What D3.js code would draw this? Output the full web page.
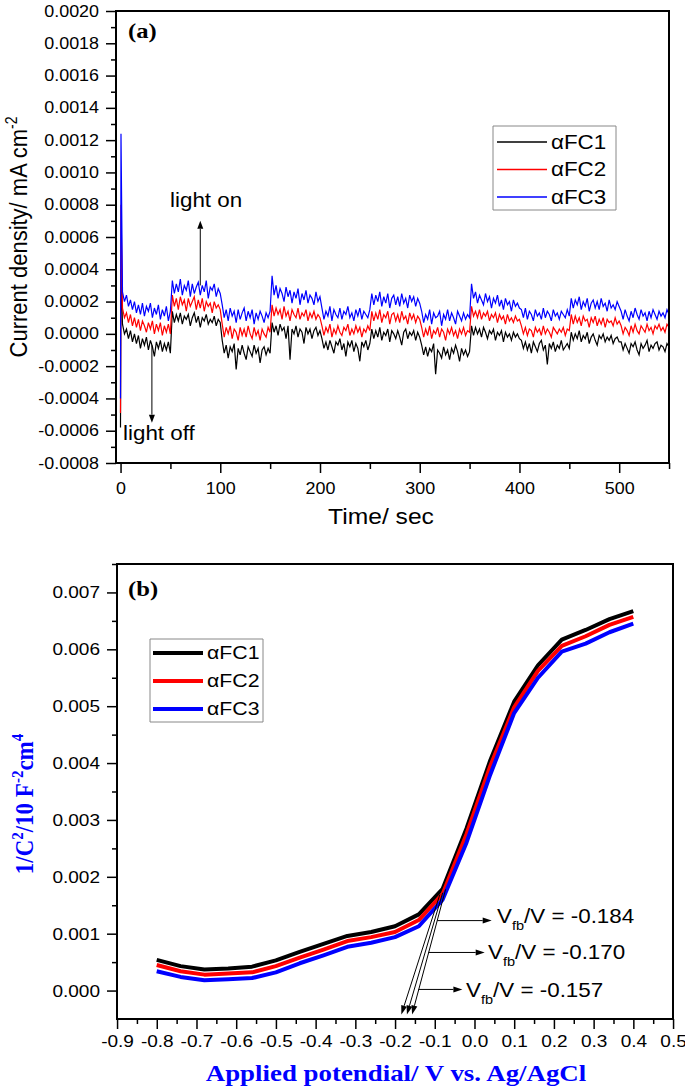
<!DOCTYPE html>
<html>
<head>
<meta charset="utf-8">
<script src="https://cdn.jsdelivr.net/npm/d3@7/dist/d3.min.js"></script>
<style>
html,body{margin:0;padding:0;background:#fff;}
svg{display:block;}
</style>
</head>
<body>
<script>
// ================= DATA: panel (a) transient photocurrent =================
const UNIT_A = 1e-5; // series values below are in units of 1e-5 mA cm^-2
const timeA = [0, 0.5].concat(d3.range(2, 551, 2)); // seconds
const namesA = ["\u03B1FC1", "\u03B1FC2", "\u03B1FC3"];
const colorsA = ["#000000", "#ff0000", "#0000ff"];
const fc1A = [-58, 40,
  6, 0, 3, -3, 2, -5, 0, -6, -1, -9, -3, -7, -2, -10, -4, -8, -14, -5, -9, -4, -11, -6, -10, -5, -12,
  14, 7, 12, 8, 13, 6, 11, 9, 12, 5, 10, 13, 7, 11, 4, 10, 8, 12, 6, 9, 7, 11, 5, 9, 7,
  -4, -12, -7, -15, -8, -11, -6, -22, -9, -13, -7, -12, -16, -8, -11, -14, -7, -12, -9, -18, -10, -8, -13, -9, -12,
  7, 1, 5, -1, 6, 2, 4, -3, 5, -16, 3, 0, 5, -2, 3, 1, -6, 4, 0, 3, -3, 2, 4, -1, 2,
  -3, -9, -5, -10, -4, -8, -12, -5, -7, -3, -10, -6, -14, -5, -8, -4, -11, -6, -9, -17, -5, -8, -4, -10, -6,
  3, -3, 2, -2, 4, -4, 1, -1, 3, -5, 2, 0, -3, 2, -2, -7, 1, 3, -3, 1, -1, 2, -4, 1, -2,
  -7, -13, -8, -14, -9, -11, -6, -25, -10, -12, -15, -8, -13, -10, -16, -9, -12, -7, -11, -17, -9, -13, -10, -14, -11,
  5, -1, 4, 0, 3, -2, 4, 1, -3, 2, 0, 3, -4, 1, -1, 2, -5, 1, -2, 0, -4, 1, -2, 0, -3,
  -4, -9, -5, -10, -6, -12, -5, -8, -11, -6, -4, -10, -7, -19, -6, -9, -5, -11, -7, -9, -4, -10, -8, -6, -9,
  1, -4, 0, -3, 2, -5, -1, -3, 1, -6, -2, 0, -4, -7, -1, -3, 0, -5, -2, -4, -1, -6, -3, -2, -5,
  -5, -10, -6, -9, -12, -6, -8, -5, -10, -13, -6, -9, -7, -4, -11, -7, -9, -6, -5, -10, -7, -8, -11, -6, -8];
const fc2A = [-49, 80,
  16, 10, 13, 7, 12, 5, 10, 4, 9, 2, 8, 5, 1, 7, 3, 8, 0, 6, 2, 7, -1, 5, 1, 6, 0,
  24, 17, 22, 15, 23, 18, 21, 14, 22, 17, 20, 23, 15, 21, 16, 22, 14, 20, 17, 19, 13, 20, 16, 18, 15,
  6, -2, 4, 0, 5, -3, 3, 1, -4, 4, -1, 3, -2, 5, 0, -3, 4, -1, 2, -4, 3, 0, -2, 4, 1,
  18, 11, 16, 12, 15, 9, 17, 11, 14, 8, 15, 12, 10, 16, 9, 13, 11, 15, 8, 13, 10, 14, 9, 12, 10,
  5, -1, 4, 1, 6, -2, 3, 0, 5, 1, -1, 4, 2, 6, -1, 3, 0, 5, 1, 4, -2, 3, 1, 5, 2,
  14, 8, 13, 9, 15, 7, 12, 10, 14, 6, 12, 13, 8, 12, 7, 14, 9, 11, 6, 13, 9, 12, 7, 11, 9,
  4, -2, 3, -1, 5, -3, 2, 0, 4, -2, 3, 1, -4, 3, 0, 4, -1, 2, -3, 3, 0, 4, -1, 2, 1,
  17, 11, 14, 10, 15, 9, 13, 11, 14, 8, 12, 10, 13, 7, 12, 9, 11, 6, 12, 8, 10, 7, 11, 8, 9,
  5, 0, 4, -1, 3, 2, -2, 4, 1, 3, -1, 5, 0, 3, 1, -2, 4, 2, 0, 3, 1, 4, -1, 3, 2,
  12, 6, 11, 7, 10, 5, 11, 8, 9, 4, 10, 7, 11, 5, 9, 6, 10, 4, 9, 7, 8, 5, 10, 6, 8,
  5, 0, 4, 2, -1, 5, 1, 6, 2, 0, 5, 3, 1, 6, 2, 4, 0, 5, 3, 6, 2, 4, 1, 6, 4];
const fc3A = [-40, 124,
  26, 20, 24, 17, 21, 15, 20, 13, 18, 12, 19, 11, 17, 14, 19, 10, 16, 12, 18, 9, 15, 11, 17, 8, 14,
  33, 25, 31, 26, 34, 24, 30, 27, 33, 23, 31, 25, 29, 32, 24, 30, 26, 33, 22, 29, 27, 31, 23, 28, 25,
  18, 10, 15, 8, 16, 11, 14, 7, 15, 9, 13, 16, 8, 14, 10, 15, 6, 13, 9, 14, 11, 7, 13, 10, 14,
  36, 24, 30, 22, 28, 25, 20, 29, 23, 27, 19, 26, 22, 28, 18, 25, 21, 27, 19, 24, 22, 18, 26, 20, 23,
  16, 9, 14, 11, 17, 8, 15, 12, 10, 16, 9, 14, 12, 17, 10, 13, 8, 15, 11, 16, 9, 14, 12, 10, 15,
  25, 18, 24, 20, 26, 17, 23, 19, 25, 16, 22, 24, 18, 23, 17, 25, 19, 22, 16, 24, 20, 23, 17, 22, 19,
  14, 7, 12, 9, 15, 6, 13, 10, 11, 14, 5, 12, 9, 15, 8, 13, 10, 6, 14, 11, 8, 13, 9, 12, 10,
  31, 22, 26, 19, 24, 21, 18, 25, 20, 23, 16, 22, 19, 24, 17, 21, 15, 22, 18, 20, 14, 21, 17, 19, 16,
  15, 10, 16, 9, 14, 12, 8, 15, 11, 13, 9, 16, 10, 14, 12, 8, 15, 11, 13, 9, 14, 12, 10, 15, 11,
  22, 16, 21, 18, 23, 15, 20, 17, 22, 14, 19, 21, 16, 20, 15, 22, 17, 19, 14, 21, 16, 18, 15, 20, 17,
  14, 9, 15, 11, 8, 14, 10, 16, 12, 9, 15, 11, 13, 8, 14, 10, 15, 12, 9, 14, 11, 13, 10, 15, 12];
const xTicksA = [0, 100, 200, 300, 400, 500];
const xMinorA = [50, 150, 250, 350, 450, 550];
const yTicksA = [-0.0008, -0.0006, -0.0004, -0.0002, 0, 0.0002, 0.0004, 0.0006, 0.0008,
                 0.0010, 0.0012, 0.0014, 0.0016, 0.0018, 0.0020];

// ================= DATA: panel (b) Mott-Schottky =================
const namesB = ["\u03B1FC1", "\u03B1FC2", "\u03B1FC3"];
const colorsB = ["#000000", "#ff0000", "#0000ff"];
const potentialB = [-0.8, -0.74, -0.68, -0.62, -0.56, -0.5, -0.44, -0.38, -0.32, -0.26, -0.2,
                    -0.14, -0.08, -0.02, 0.04, 0.1, 0.16, 0.22, 0.28, 0.34, 0.4];
const fc1B = [0.00054, 0.00043, 0.00037, 0.00039, 0.00042, 0.00053, 0.00068, 0.00082, 0.00096, 0.00103, 0.00113,
              0.00134, 0.00179, 0.00285, 0.00405, 0.00508, 0.00572, 0.00617, 0.00634, 0.00653, 0.00667];
const fc2B = [0.00045, 0.00034, 0.00028, 0.00030, 0.00032, 0.00043, 0.00058, 0.00072, 0.00087, 0.00094, 0.00103,
              0.00124, 0.00170, 0.00275, 0.00395, 0.00498, 0.00562, 0.00606, 0.00623, 0.00643, 0.00657];
const fc3B = [0.00034, 0.00024, 0.00018, 0.00020, 0.00022, 0.00032, 0.00048, 0.00062, 0.00077, 0.00084, 0.00094,
              0.00113, 0.00160, 0.00260, 0.00380, 0.00488, 0.00550, 0.00596, 0.00610, 0.00630, 0.00645];
const vfbB = [-0.184, -0.170, -0.157];
const xTicksB = [-0.9, -0.8, -0.7, -0.6, -0.5, -0.4, -0.3, -0.2, -0.1, 0.0, 0.1, 0.2, 0.3, 0.4, 0.5];
const yTicksB = [0.000, 0.001, 0.002, 0.003, 0.004, 0.005, 0.006, 0.007];

// ================= DRAWING =================
const SX = 1.12;               // horizontal stretch of the original figure
const W = 685, H = 1090;
const px = v => v / SX;        // screen x (px) -> viewBox x
const SANS = "'Liberation Sans', Arial, Helvetica, sans-serif";
const SERIF = "'Liberation Serif', 'Times New Roman', Times, serif";

const svg = d3.select("body").append("svg")
  .attr("width", W).attr("height", H)
  .attr("viewBox", `0 0 ${W / SX} ${H}`)
  .attr("preserveAspectRatio", "none");
svg.append("style").text("line,path,rect{vector-effect:non-scaling-stroke;}");

function arrow(g, x1, y1, x2, y2, len, wid, sw) { // x in viewBox units, y in px
  const X1 = x1 * SX, X2 = x2 * SX;
  const dx = X2 - X1, dy = y2 - y1, L = Math.hypot(dx, dy);
  const ux = dx / L, uy = dy / L;
  const bx = X2 - ux * len, by = y2 - uy * len;
  g.append("line").attr("x1", px(X1)).attr("y1", y1).attr("x2", px(bx)).attr("y2", by)
    .attr("stroke", "#000").attr("stroke-width", sw);
  g.append("path")
    .attr("d", `M${px(X2)},${y2}L${px(bx - uy * wid / 2)},${by + ux * wid / 2}L${px(bx + uy * wid / 2)},${by - ux * wid / 2}Z`)
    .attr("fill", "#000");
}

function styleAxis(g, fs) {
  g.select(".domain").remove();
  g.attr("font-family", SANS).attr("font-size", fs);
  g.selectAll(".tick line").attr("stroke", "#000").attr("stroke-width", 1.5);
  g.selectAll(".tick text").attr("fill", "#000");
}

// ---------- Panel (a) ----------
const A = { l: 116, r: 669, t: 11, b: 463 };
const xA = d3.scaleLinear().domain([-4.5, 550]).range([px(A.l), px(A.r)]);
const yA = d3.scaleLinear().domain([-0.0008, 0.0020]).range([A.b, A.t]);

svg.append("clipPath").attr("id", "clipA").append("rect")
  .attr("x", px(A.l)).attr("y", A.t).attr("width", px(A.r - A.l)).attr("height", A.b - A.t);

const lineA = d3.line().x(d => xA(d[0])).y(d => yA(d[1] * UNIT_A));
const gA = svg.append("g").attr("clip-path", "url(#clipA)");
[fc1A, fc2A, fc3A].forEach((s, i) => {
  gA.append("path").datum(timeA.map((t, j) => [t, s[j]]))
    .attr("d", lineA).attr("fill", "none").attr("stroke", colorsA[i]).attr("stroke-width", 1.2);
});

// axes (a)
const yMinorA = yTicksA.slice(0, -1).map((v, i) => (v + yTicksA[i + 1]) / 2);
let g = svg.append("g").attr("transform", `translate(${px(A.l)},0)`)
  .call(d3.axisLeft(yA).tickValues(yTicksA).tickFormat(d => d.toFixed(4)).tickSize(px(10)).tickPadding(px(7)));
styleAxis(g, 16);
g = svg.append("g").attr("transform", `translate(${px(A.l)},0)`)
  .call(d3.axisLeft(yA).tickValues(yMinorA).tickFormat("").tickSize(px(5)));
styleAxis(g, 16);
g = svg.append("g").attr("transform", `translate(0,${A.b})`)
  .call(d3.axisBottom(xA).tickValues(xTicksA).tickFormat(d3.format("d")).tickSize(10).tickPadding(9.5));
styleAxis(g, 16);
g = svg.append("g").attr("transform", `translate(0,${A.b})`)
  .call(d3.axisBottom(xA).tickValues(xMinorA).tickFormat("").tickSize(6));
styleAxis(g, 16);

svg.append("rect").attr("x", px(A.l)).attr("y", A.t).attr("width", px(A.r - A.l)).attr("height", A.b - A.t)
  .attr("fill", "none").attr("stroke", "#000").attr("stroke-width", 2);

// titles (a)
svg.append("text").attr("x", px(381)).attr("y", 524).attr("text-anchor", "middle")
  .attr("font-family", SANS).attr("font-size", 22).text("Time/ sec");
const ytA = svg.append("text").attr("transform", `translate(${px(27)},237) rotate(-90)`)
  .attr("text-anchor", "middle").attr("font-family", SANS).attr("font-size", 22);
ytA.append("tspan").text("Current density/ mA cm");
ytA.append("tspan").attr("font-size", 14).attr("dy", -9).text("-2");

svg.append("text").attr("x", px(128)).attr("y", 38).attr("font-family", SERIF)
  .attr("font-weight", "bold").attr("font-size", 22).text("(a)");

// annotations (a)
const annA = svg.append("g");
arrow(annA, xA(80), yA(0.00030), xA(80), yA(0.00070), 8, 6, 1);
annA.append("text").attr("x", px(170)).attr("y", 207).attr("font-family", SANS).attr("font-size", 20).text("light on");
arrow(annA, xA(31.5), yA(-0.00007), xA(31.5), yA(-0.00055), 8, 6, 1);
annA.append("text").attr("x", px(123)).attr("y", 440).attr("font-family", SANS).attr("font-size", 20).text("light off");

// legend (a)
const legA = svg.append("g");
legA.append("rect").attr("x", px(493)).attr("y", 126).attr("width", px(123)).attr("height", 84)
  .attr("fill", "#fff").attr("stroke", "#888").attr("stroke-width", 1);
namesA.forEach((n, i) => {
  const yy = 142 + i * 27.5;
  legA.append("line").attr("x1", px(497)).attr("x2", px(547)).attr("y1", yy).attr("y2", yy)
    .attr("stroke", colorsA[i]).attr("stroke-width", 1.5);
  legA.append("text").attr("x", px(551)).attr("y", yy + 7).attr("font-family", SANS)
    .attr("font-size", 20).text(n);
});

// ---------- Panel (b) ----------
const B = { l: 117, r: 673, t: 564, b: 1019 };
const xB = d3.scaleLinear().domain([-0.9, 0.5]).range([px(B.l), px(B.r)]);
const yB = d3.scaleLinear().domain([-0.0005, 0.0075]).range([B.b, B.t]);

const lineB = d3.line().x(d => xB(d[0])).y(d => yB(d[1]));
[fc1B, fc2B, fc3B].forEach((s, i) => {
  svg.append("path").datum(potentialB.map((p, j) => [p, s[j]]))
    .attr("d", lineB).attr("fill", "none").attr("stroke", colorsB[i])
    .attr("stroke-width", 4).attr("stroke-linejoin", "round");
});

const xMinorB = xTicksB.slice(0, -1).map((v, i) => (v + xTicksB[i + 1]) / 2);
const yMinorB = yTicksB.map(v => v + 0.0005);
g = svg.append("g").attr("transform", `translate(${px(B.l)},0)`)
  .call(d3.axisLeft(yB).tickValues(yTicksB).tickFormat(d => d.toFixed(3)).tickSize(px(10)).tickPadding(px(7)));
styleAxis(g, 17);
g = svg.append("g").attr("transform", `translate(${px(B.l)},0)`)
  .call(d3.axisLeft(yB).tickValues(yMinorB).tickFormat("").tickSize(px(5)));
styleAxis(g, 17);
g = svg.append("g").attr("transform", `translate(0,${B.b})`)
  .call(d3.axisBottom(xB).tickValues(xTicksB).tickFormat(d => d.toFixed(1)).tickSize(10).tickPadding(6));
styleAxis(g, 17);
g = svg.append("g").attr("transform", `translate(0,${B.b})`)
  .call(d3.axisBottom(xB).tickValues(xMinorB).tickFormat("").tickSize(5));
styleAxis(g, 17);

svg.append("rect").attr("x", px(B.l)).attr("y", B.t).attr("width", px(B.r - B.l)).attr("height", B.b - B.t)
  .attr("fill", "none").attr("stroke", "#000").attr("stroke-width", 2);

svg.append("text").attr("x", px(396)).attr("y", 1081).attr("text-anchor", "middle")
  .attr("font-family", SERIF).attr("font-weight", "bold").attr("font-size", 24).attr("fill", "#0000ff")
  .text("Applied potendial/ V vs. Ag/AgCl");

const ytB = svg.append("text").attr("transform", `translate(${px(33)},804) rotate(-90)`)
  .attr("text-anchor", "middle").attr("font-family", SERIF).attr("font-weight", "bold")
  .attr("font-size", 23).attr("fill", "#0000ff");
ytB.append("tspan").text("1/C");
ytB.append("tspan").attr("font-size", 15).attr("dy", -9).text("2");
ytB.append("tspan").attr("dy", 9).text("/10 F");
ytB.append("tspan").attr("font-size", 15).attr("dy", -9).text("-2");
ytB.append("tspan").attr("dy", 9).text("cm");
ytB.append("tspan").attr("font-size", 15).attr("dy", -9).text("4");

svg.append("text").attr("x", px(128)).attr("y", 596).attr("font-family", SERIF)
  .attr("font-weight", "bold").attr("font-size", 22).text("(b)");

// legend (b)
const legB = svg.append("g");
legB.append("rect").attr("x", px(150)).attr("y", 639).attr("width", px(113)).attr("height", 83)
  .attr("fill", "#fff").attr("stroke", "#888").attr("stroke-width", 1);
namesB.forEach((n, i) => {
  const yy = 653 + i * 28;
  legB.append("line").attr("x1", px(153)).attr("x2", px(203)).attr("y1", yy).attr("y2", yy)
    .attr("stroke", colorsB[i]).attr("stroke-width", 4);
  legB.append("text").attr("x", px(207)).attr("y", yy + 6.5).attr("font-family", SANS)
    .attr("font-size", 19).text(n);
});

// flat-band annotations (b)
const annB = svg.append("g");
const slantStart = [[-0.087, 0.00169], [-0.080, 0.00172], [-0.0726, 0.00178]];
vfbB.forEach((v, i) => {
  arrow(annB, xB(slantStart[i][0]), yB(slantStart[i][1]), xB(v), yB(-0.00042), 9, 6, 1);
});
const horiz = [[-0.0936, 0.0435, 0.00123], [-0.1157, 0.0258, 0.00067], [-0.141, -0.0304, 0.00002]];
const labPos = [[497, 923], [488, 959], [466, 997]];
vfbB.forEach((v, i) => {
  const h = horiz[i];
  arrow(annB, xB(h[0]), yB(h[2]), xB(h[1]), yB(h[2]), 9, 6, 1);
  const t = annB.append("text").attr("x", px(labPos[i][0])).attr("y", labPos[i][1])
    .attr("font-family", SANS).attr("font-size", 20);
  t.append("tspan").text("V");
  t.append("tspan").attr("font-size", 13).attr("dy", 7).text("fb");
  t.append("tspan").attr("dy", -7).text("/V = " + v.toFixed(3));
});
</script>
</body>
</html>
